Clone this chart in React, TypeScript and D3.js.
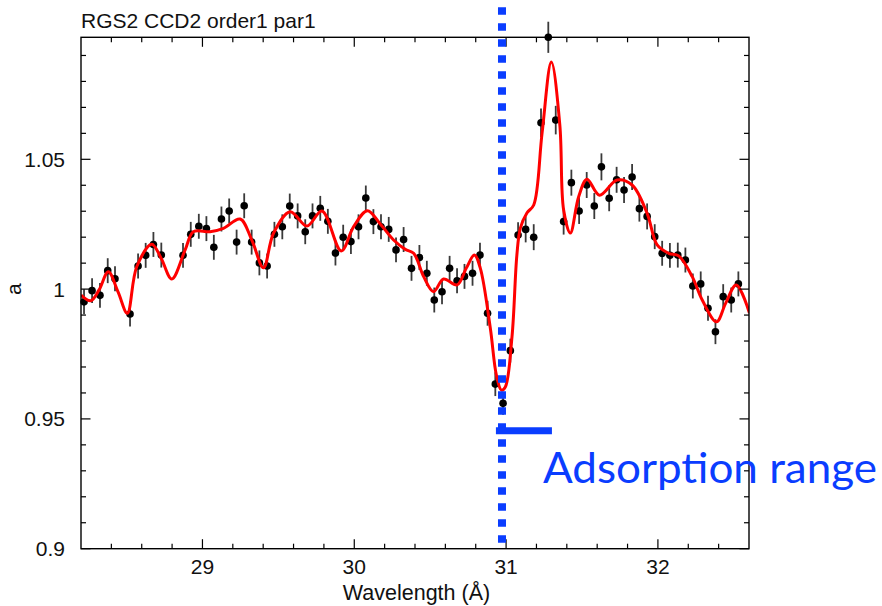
import React from "react";
import * as d3 from "d3";

// Measured ratio per wavelength bin (Å)
const wavelength = [
  28.220, 28.273, 28.325, 28.376, 28.424, 28.523, 28.576, 28.626, 28.677, 28.729,
  28.872, 28.923, 28.976, 29.026, 29.075, 29.125, 29.176, 29.225, 29.275, 29.324,
  29.375, 29.426, 29.474, 29.526, 29.575, 29.627, 29.677, 29.725, 29.776, 29.826,
  29.876, 29.927, 29.978, 30.028, 30.076, 30.126, 30.176, 30.227, 30.275, 30.325,
  30.377, 30.429, 30.478, 30.527, 30.578, 30.628, 30.677, 30.726, 30.779, 30.828,
  30.878, 30.929, 30.980, 31.028, 31.079, 31.129, 31.182, 31.230, 31.278, 31.327,
  31.379, 31.430, 31.481, 31.531, 31.581, 31.628, 31.679, 31.728, 31.777, 31.830,
  31.878, 31.929, 31.979, 32.028, 32.079, 32.131, 32.181, 32.230, 32.282, 32.330,
  32.379, 32.430, 32.483, 32.530,
];

const ratio = [
  0.9951, 0.9994, 0.9976, 1.0071, 1.0040, 0.9904, 1.0089, 1.0130, 1.0172, 1.0131,
  1.0130, 1.0211, 1.0242, 1.0233, 1.0161, 1.0270, 1.0301, 1.0181, 1.0321, 1.0181,
  1.0101, 1.0089, 1.0211, 1.0240, 1.0320, 1.0282, 1.0221, 1.0282, 1.0311, 1.0261,
  1.0139, 1.0200, 1.0183, 1.0240, 1.0351, 1.0260, 1.0240, 1.0230, 1.0151, 1.0191,
  1.0080, 1.0122, 1.0061, 0.9958, 0.9990, 1.0080, 1.0032, 1.0049, 1.0061, 1.0131,
  0.9907, 0.9634, 0.9560, 0.9763, 1.0208, 1.0230, 1.0200, 1.0641, 1.0970, 1.0651,
  1.0260, 1.0410, 1.0301, 1.0401, 1.0320, 1.0471, 1.0350, 1.0421, 1.0382, 1.0432,
  1.0310, 1.0280, 1.0202, 1.0138, 1.0130, 1.0131, 1.0112, 1.0012, 1.0020, 0.9926,
  0.9836, 0.9971, 0.9958, 1.0020,
];

const ratioError = [
  0.0048, 0.0048, 0.0048, 0.0048, 0.0048, 0.0048, 0.0048, 0.0048, 0.0048, 0.0048,
  0.0048, 0.0048, 0.0048, 0.0048, 0.0048, 0.0048, 0.0048, 0.0048, 0.0048, 0.0048,
  0.0048, 0.0048, 0.0048, 0.0048, 0.0048, 0.0048, 0.0048, 0.0048, 0.0048, 0.0048,
  0.0048, 0.0048, 0.0048, 0.0048, 0.0048, 0.0048, 0.0048, 0.0048, 0.0048, 0.0048,
  0.0048, 0.0048, 0.0048, 0.0048, 0.0048, 0.0048, 0.0048, 0.0048, 0.0048, 0.0048,
  0.0048, 0.0046, 0.0044, 0.0046, 0.0050, 0.0050, 0.0050, 0.0055, 0.0060, 0.0055,
  0.0050, 0.0050, 0.0050, 0.0050, 0.0050, 0.0052, 0.0050, 0.0050, 0.0050, 0.0050,
  0.0050, 0.0050, 0.0048, 0.0048, 0.0048, 0.0048, 0.0048, 0.0048, 0.0048, 0.0048,
  0.0048, 0.0048, 0.0048, 0.0048,
];

// Best-fit model curve
const modelWavelength = [
  28.200, 28.264, 28.319, 28.380, 28.444, 28.505, 28.567, 28.666, 28.727, 28.798,
  28.886, 28.940, 29.050, 29.138, 29.248, 29.325, 29.402, 29.468, 29.578, 29.688,
  29.787, 29.914, 29.995, 30.087, 30.171, 30.259, 30.336, 30.391, 30.457, 30.522,
  30.588, 30.677, 30.738, 30.791, 30.830, 30.896, 30.936, 30.969, 30.995, 31.039,
  31.071, 31.094, 31.138, 31.182, 31.237, 31.298, 31.354, 31.379, 31.423, 31.478,
  31.533, 31.615, 31.731, 31.830, 31.929, 31.995, 32.071, 32.137, 32.226, 32.292,
  32.386, 32.446, 32.516, 32.603,
];

const modelRatio = [
  0.9977, 0.9955, 0.9997, 1.0067, 0.9989, 0.9907, 1.0086, 1.0173, 1.0120, 1.0039,
  1.0151, 1.0221, 1.0221, 1.0234, 1.0270, 1.0189, 1.0082, 1.0215, 1.0298, 1.0243,
  1.0301, 1.0147, 1.0240, 1.0302, 1.0251, 1.0189, 1.0153, 1.0138, 1.0048, 0.9990,
  1.0039, 1.0016, 1.0081, 1.0131, 1.0081, 0.9850, 0.9669, 0.9611, 0.9623, 0.9817,
  1.0131, 1.0235, 1.0294, 1.0324, 1.0601, 1.0875, 1.0632, 1.0305, 1.0216, 1.0356,
  1.0423, 1.0362, 1.0420, 1.0401, 1.0292, 1.0170, 1.0138, 1.0128, 1.0048, 0.9958,
  0.9874, 0.9945, 1.0016, 0.9908,
];

const xMajorTicks = [29, 30, 31, 32];
const xMinorTicks = [28.4, 28.6, 28.8, 29.2, 29.4, 29.6, 29.8, 30.2, 30.4, 30.6, 30.8, 31.2, 31.4, 31.6, 31.8, 32.2, 32.4];
const yMajorTicks = [0.9, 0.95, 1.0, 1.05];
const yTickLabels = ["0.9", "0.95", "1", "1.05"];
const yMinorTicks = [0.91, 0.92, 0.93, 0.94, 0.96, 0.97, 0.98, 0.99, 1.01, 1.02, 1.03, 1.04, 1.06, 1.07, 1.08, 1.09];

// Absorption annotation (Å)
const lineCenter = 30.973;
const rangeStart = 30.933;
const rangeEnd = 31.302;
const rangeLevel = 0.9454;

const W = 882;
const H = 606;
const left = 81;
const right = 749;
const top = 37.3;
const bottom = 548.7;

const BLUE = "#0a3dff";
const FONT = "'Liberation Sans', Arial, Helvetica, sans-serif";

export default function App() {
  const x = d3.scaleLinear().domain([28.2, 32.6]).range([left, right]);
  const y = d3.scaleLinear().domain([0.9, 1.097]).range([bottom, top]);

  const modelPts: [number, number][] = modelWavelength.map((w, i) => [w, modelRatio[i]]);
  const line = d3
    .line<[number, number]>()
    .x((d) => x(d[0]))
    .y((d) => y(d[1]))
    .curve(d3.curveCatmullRom.alpha(0.5));

  const majorLen = 9.5;
  const minorLen = 5;

  return (
    <svg
      width={W}
      height={H}
      style={{ position: "absolute", left: 0, top: 0, background: "#fff" }}
      fontFamily={FONT}
    >
      <defs>
        <clipPath id="plotClip">
          <rect x={left} y={top - 6} width={right - left} height={bottom - top + 6} />
        </clipPath>
      </defs>

      <text x={left} y={28} fontSize={21} fill="#111">
        RGS2 CCD2 order1 par1
      </text>

      {/* error bars */}
      <g stroke="#3a3a3a" strokeWidth={1.8}>
        {wavelength.map((w, i) => (
          <line
            key={"e" + i}
            x1={x(w)}
            x2={x(w)}
            y1={y(ratio[i] - ratioError[i])}
            y2={y(ratio[i] + ratioError[i])}
          />
        ))}
      </g>

      {/* data points */}
      <g fill="#000">
        {wavelength.map((w, i) => (
          <circle key={"p" + i} cx={x(w)} cy={y(ratio[i])} r={3.8} />
        ))}
      </g>

      {/* model */}
      <path
        d={line(modelPts) || ""}
        fill="none"
        stroke="#ff0000"
        strokeWidth={3}
        clipPath="url(#plotClip)"
      />

      {/* frame */}
      <rect
        x={left}
        y={top}
        width={right - left}
        height={bottom - top}
        fill="none"
        stroke="#000"
        strokeWidth={1.4}
      />

      {/* ticks on all four sides, pointing inward */}
      <g stroke="#000" strokeWidth={1.2}>
        {xMajorTicks.map((t) => (
          <g key={"xm" + t}>
            <line x1={x(t)} x2={x(t)} y1={bottom} y2={bottom - majorLen} />
            <line x1={x(t)} x2={x(t)} y1={top} y2={top + majorLen} />
          </g>
        ))}
        {xMinorTicks.map((t) => (
          <g key={"xn" + t}>
            <line x1={x(t)} x2={x(t)} y1={bottom} y2={bottom - minorLen} />
            <line x1={x(t)} x2={x(t)} y1={top} y2={top + minorLen} />
          </g>
        ))}
        {yMajorTicks.map((t) => (
          <g key={"ym" + t}>
            <line x1={left} x2={left + majorLen} y1={y(t)} y2={y(t)} />
            <line x1={right} x2={right - majorLen} y1={y(t)} y2={y(t)} />
          </g>
        ))}
        {yMinorTicks.map((t) => (
          <g key={"yn" + t}>
            <line x1={left} x2={left + minorLen} y1={y(t)} y2={y(t)} />
            <line x1={right} x2={right - minorLen} y1={y(t)} y2={y(t)} />
          </g>
        ))}
      </g>

      {/* tick labels */}
      <g fontSize={21} fill="#111">
        {xMajorTicks.map((t) => (
          <text key={"xl" + t} x={x(t)} y={574} textAnchor="middle">
            {t}
          </text>
        ))}
        {yMajorTicks.map((t, i) => (
          <text key={"yl" + t} x={65} y={y(t) + 7.5} textAnchor="end">
            {yTickLabels[i]}
          </text>
        ))}
      </g>

      <text x={416.5} y={600} fontSize={21.5} textAnchor="middle" fill="#111">
        Wavelength (Å)
      </text>
      <text
        transform={`translate(21, ${y(1.0)}) rotate(-90)`}
        fontSize={21}
        textAnchor="middle"
        fill="#111"
      >
        a
      </text>

      {/* absorption marker */}
      <line
        x1={x(lineCenter)}
        x2={x(lineCenter)}
        y1={7.3}
        y2={543}
        stroke={BLUE}
        strokeWidth={8}
        strokeDasharray="7.4,8.6"
      />
      <line
        x1={x(rangeStart)}
        x2={x(rangeEnd)}
        y1={y(rangeLevel)}
        y2={y(rangeLevel)}
        stroke={BLUE}
        strokeWidth={7}
      />
      <text
        x={543}
        y={483}
        fontSize={42}
        fill={BLUE}
        fontFamily="Lato, 'Open Sans', sans-serif"
        textLength={334}
        lengthAdjust="spacingAndGlyphs"
      >
        Adsorption range
      </text>
    </svg>
  );
}
